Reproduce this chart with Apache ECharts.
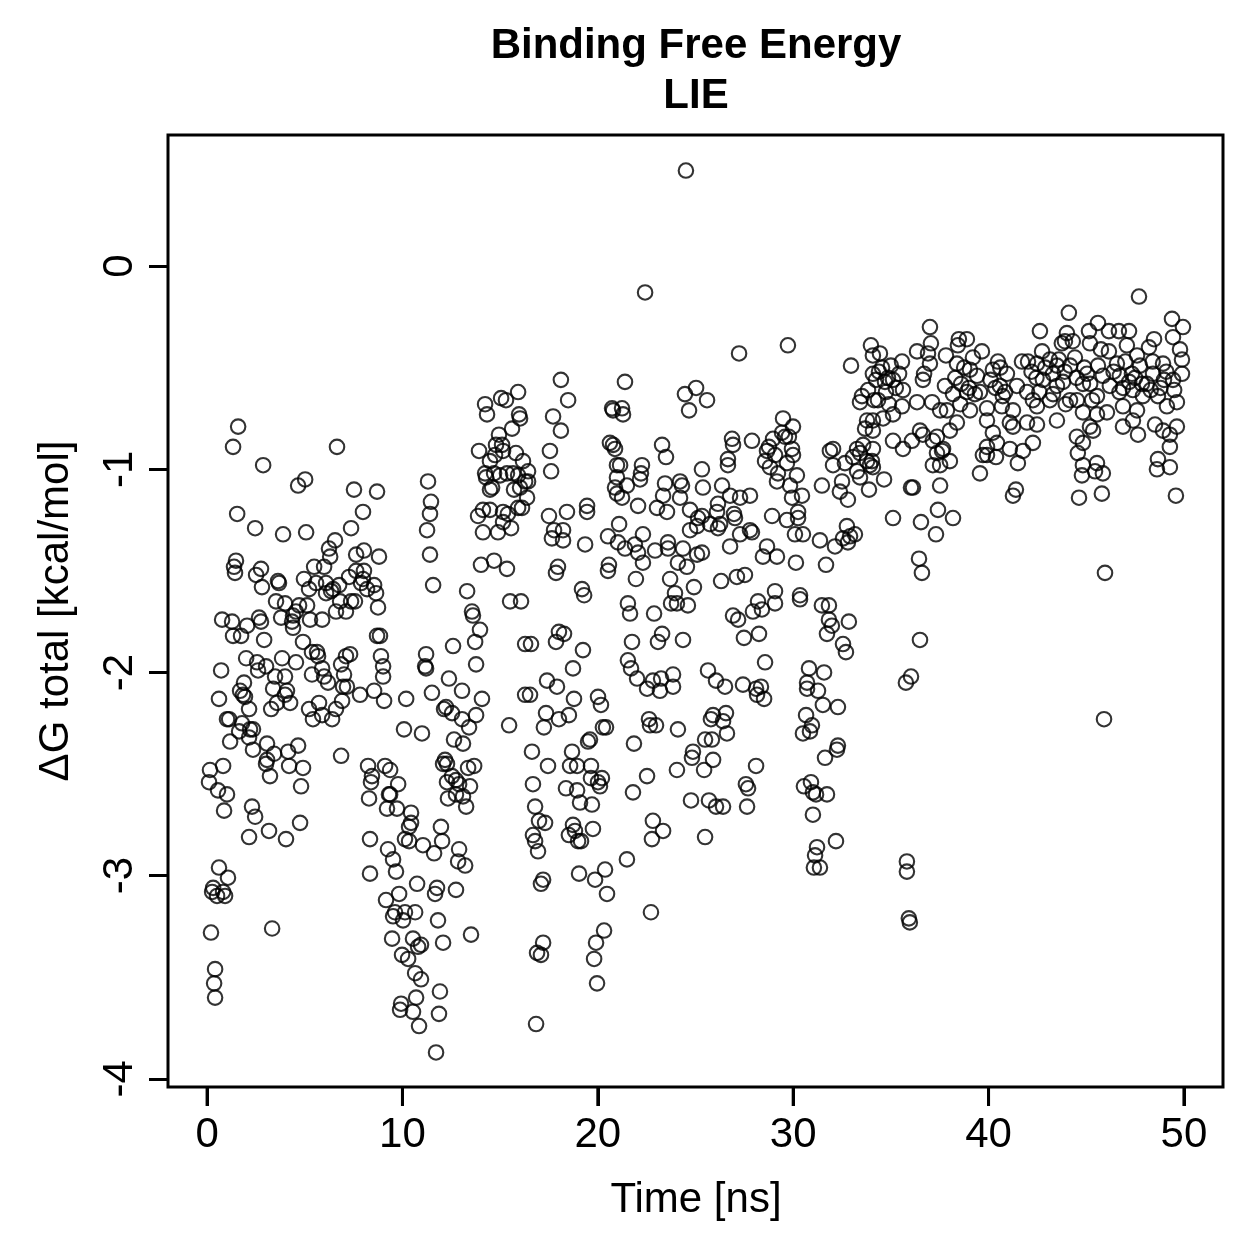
<!DOCTYPE html>
<html>
<head>
<meta charset="utf-8">
<script src="https://cdn.jsdelivr.net/npm/echarts@6/dist/echarts.min.js"></script>
<style>
html,body{margin:0;padding:0;background:#fff;}
#chart{width:1259px;height:1259px;}
</style>
</head>
<body>
<div id="chart"></div>
<script>
// [time (ns), dG total (kcal/mol)]
const block0to10 = [
[0.15,-2.48],[0.82,-2.46],[0.10,-2.54],[0.56,-2.58],[1.02,-2.60],[0.87,-2.68],[2.30,-2.66],[2.46,-2.71],[2.15,-2.81],[3.17,-2.78],[4.04,-2.82],[4.76,-2.74],[4.81,-2.56],[4.91,-2.47],[4.20,-2.46],[3.02,-2.45],[3.22,-2.51],[0.61,-2.96],[1.07,-3.01],[0.31,-3.06],[0.26,-3.08],[0.51,-3.10],[0.92,-3.10],[0.82,-3.08],[0.20,-3.28],[3.33,-3.26],[0.41,-3.46],[0.36,-3.53],[0.41,-3.60],[8.24,-2.46],[8.44,-2.51],[8.39,-2.54],[8.29,-2.62],[9.11,-2.46],[9.37,-2.48],[9.78,-2.55],[9.37,-2.60],[9.31,-2.60],[9.21,-2.67],[9.72,-2.67],[8.34,-2.82],[9.26,-2.87],[9.52,-2.92],[9.67,-2.98],[8.34,-2.99],[9.83,-3.09],[9.16,-3.12],[9.62,-3.18],[9.52,-3.20],[9.47,-3.31],[9.98,-3.39],[9.93,-3.63],[9.88,-3.66],
[1.33,-0.89],[6.65,-0.89],[1.59,-0.79],[2.87,-0.98],[4.66,-1.08],[5.02,-1.05],[7.52,-1.10],[8.70,-1.11],[1.54,-1.22],[2.46,-1.29],[3.89,-1.32],[5.07,-1.31],[7.98,-1.21],[7.37,-1.29],[6.55,-1.35],[6.24,-1.39],[6.30,-1.43],[7.63,-1.42],[8.03,-1.40],[8.80,-1.43],[1.48,-1.45],[1.38,-1.48],[1.43,-1.51],[2.76,-1.49],[2.51,-1.52],[2.81,-1.58],[3.63,-1.55],[3.68,-1.56],[5.48,-1.48],[5.99,-1.48],[4.96,-1.54],[5.22,-1.59],[5.58,-1.56],[6.09,-1.56],[6.76,-1.57],[7.27,-1.53],[7.63,-1.50],[8.03,-1.50],[7.98,-1.54],[7.88,-1.56],[8.19,-1.59],[8.55,-1.57],[8.65,-1.61],[6.35,-1.60],[6.09,-1.61],[6.45,-1.59],[3.53,-1.65],[3.99,-1.66],[4.71,-1.67],[5.12,-1.67],[4.55,-1.70],[4.40,-1.72],[3.79,-1.73],[4.35,-1.75],[4.40,-1.78],[5.27,-1.74],[5.89,-1.74],[6.60,-1.70],[7.11,-1.70],[6.81,-1.65],[7.37,-1.65],[7.57,-1.65],[8.75,-1.68],[0.77,-1.74],[1.28,-1.75],[2.05,-1.77],[2.66,-1.73],[2.76,-1.75],[1.33,-1.82],[1.74,-1.82],[2.92,-1.84],[4.91,-1.85],[8.70,-1.82],[8.85,-1.82],[5.37,-1.90],[5.63,-1.90],[5.68,-1.92],[7.11,-1.92],[7.32,-1.91],[2.00,-1.93],[2.56,-1.95],[3.02,-1.97],[2.61,-1.99],[3.84,-1.93],[4.55,-1.95],[0.72,-1.99],[3.48,-2.02],[3.99,-2.02],[5.37,-2.01],[5.89,-1.98],[5.99,-2.02],[6.19,-2.05],[6.86,-1.96],[7.01,-2.01],[8.90,-1.92],[9.01,-1.97],[9.01,-2.02],[1.89,-2.05],[1.69,-2.09],[1.84,-2.11],[1.94,-2.12],[3.38,-2.08],[4.09,-2.09],[3.99,-2.11],[4.25,-2.15],[3.58,-2.15],[3.28,-2.18],[0.61,-2.13],[2.15,-2.18],[6.96,-2.07],[7.16,-2.07],[6.91,-2.14],[7.83,-2.11],[8.55,-2.09],[9.06,-2.14],[5.73,-2.15],[5.22,-2.18],[5.89,-2.21],[6.40,-2.23],[5.42,-2.23],[6.60,-2.18],[1.02,-2.23],[1.13,-2.23],[1.79,-2.25],[1.64,-2.29],[2.20,-2.28],[2.35,-2.28],[2.15,-2.32],[1.18,-2.34],[2.35,-2.38],[3.07,-2.35],[4.66,-2.36],[4.15,-2.39],[3.43,-2.40],[3.07,-2.43],[6.86,-2.41]
];
const block10to20 = [
[10.44,-2.69],[10.44,-2.74],[10.34,-2.76],[10.13,-2.82],[10.34,-2.83],[11.05,-2.85],[11.62,-2.89],[11.97,-2.76],[12.03,-2.83],[10.75,-3.04],[11.77,-3.06],[11.67,-3.09],[12.74,-3.07],[12.90,-2.87],[12.85,-2.93],[13.21,-2.95],[10.13,-3.18],[10.65,-3.18],[10.03,-3.22],[11.82,-3.22],[10.54,-3.31],[10.80,-3.35],[10.95,-3.34],[12.08,-3.33],[13.51,-3.29],[10.29,-3.41],[10.65,-3.48],[10.95,-3.51],[11.92,-3.57],[10.70,-3.60],[10.54,-3.67],[11.87,-3.68],[10.85,-3.74],[11.72,-3.87],[12.08,-2.45],[12.54,-2.51],[12.28,-2.54],[12.74,-2.53],[12.90,-2.55],[13.46,-2.56],[13.10,-2.61],[12.74,-2.60],[12.33,-2.62],[13.26,-2.66],[13.36,-2.47],[13.67,-2.46],
[11.31,-1.06],[11.46,-1.16],[11.41,-1.22],[11.26,-1.30],[11.41,-1.42],[11.57,-1.57],[12.59,-1.87],[13.77,-1.96],[13.72,-1.85],[13.97,-1.79],[13.56,-1.70],[13.61,-1.72],[13.31,-1.60],[11.21,-1.91],[11.16,-1.97],[11.21,-1.98],[10.19,-2.13],[11.51,-2.10],[12.38,-2.03],[13.05,-2.09],[14.07,-2.13],[12.23,-2.17],[12.13,-2.18],[12.54,-2.20],[13.05,-2.23],[13.41,-2.27],[13.77,-2.21],[15.46,-2.26],[10.08,-2.28],[11.00,-2.30],[12.64,-2.33],[13.10,-2.35],[12.18,-2.43],[12.28,-2.45],[16.28,-2.11],[16.28,-1.86],[15.51,-1.65],[16.07,-1.65],[14.02,-1.47],[14.69,-1.45],[15.35,-1.49],[13.92,-0.91],[14.48,-0.96],[14.74,-0.93],[15.15,-0.91],[15.81,-0.92],[14.23,-1.02],[14.28,-1.04],[14.69,-1.02],[15.00,-1.03],[15.35,-1.02],[15.66,-1.02],[15.92,-1.03],[14.48,-1.10],[14.59,-1.09],[15.71,-1.10],[16.02,-1.09],[15.92,-1.19],[13.87,-1.23],[14.12,-1.20],[14.48,-1.20],[15.15,-1.21],[15.40,-1.22],[14.12,-1.31],[14.89,-1.31],[15.56,-1.29],[15.15,-1.26],
[15.92,-0.62],[15.05,-0.65],[15.30,-0.66],[14.23,-0.68],[14.33,-0.73],[15.97,-0.73],[16.02,-0.75],[15.61,-0.80],[14.94,-0.83],[14.79,-0.88],[15.10,-0.88],[18.11,-0.56],[18.48,-0.66],[17.71,-0.74],[18.11,-0.81],[17.55,-0.91],
[16.17,-0.96],[16.43,-1.01],[16.28,-1.06],[16.43,-1.06],[16.38,-1.14],[16.12,-1.19],[17.61,-1.01],[17.50,-1.23],[18.42,-1.21],[19.45,-1.18],[19.45,-1.21],[17.76,-1.30],[18.22,-1.30],[17.65,-1.34],[18.22,-1.35],[19.35,-1.37],[17.96,-1.48],[17.86,-1.51],[19.19,-1.59],[19.30,-1.62],[16.58,-1.86],[17.86,-1.85],[18.01,-1.80],[18.27,-1.81],[19.24,-1.89],[18.73,-1.98],[17.40,-2.04],[17.91,-2.07],[16.53,-2.11],[18.78,-2.13],[17.35,-2.20],[18.01,-2.23],[18.52,-2.21],[17.24,-2.27],[19.50,-2.34],[19.60,-2.33],[16.63,-2.39],[18.68,-2.39],
[17.45,-2.46],[18.58,-2.46],[18.94,-2.46],[19.65,-2.46],[16.68,-2.55],[18.37,-2.57],[18.94,-2.58],[19.65,-2.52],[19.09,-2.64],[19.70,-2.65],[16.79,-2.66],[16.99,-2.73],[17.30,-2.74],[16.68,-2.80],[16.79,-2.83],[16.94,-2.88],[18.73,-2.75],[18.52,-2.80],[18.83,-2.78],[18.99,-2.83],[19.14,-2.83],[19.75,-2.77],[17.20,-3.02],[17.09,-3.04],[19.04,-2.99],[19.86,-3.02],[17.20,-3.33],[16.89,-3.38],[17.09,-3.39],[19.91,-3.33],[19.81,-3.41],[19.96,-3.53],[16.84,-3.73]
];
const block20to30 = [
[24.51,0.47],[22.42,-0.13],[27.23,-0.43],[29.73,-0.39],[21.39,-0.57],[20.73,-0.70],[20.78,-0.71],[21.24,-0.70],[21.29,-0.73],[20.62,-0.87],[20.78,-0.88],[23.29,-0.88],[24.46,-0.63],[25.03,-0.60],[25.59,-0.66],[24.67,-0.71],[26.87,-0.85],[26.92,-0.88],[27.89,-0.86],[29.48,-0.75],[29.99,-0.79],[29.43,-0.82],[29.58,-0.84],[29.78,-0.84],[28.97,-0.85],[28.76,-0.89],[29.94,-0.90],
[20.88,-0.90],[20.98,-0.98],[21.14,-0.98],[20.98,-1.04],[20.88,-1.09],[20.98,-1.12],[21.24,-1.14],[21.49,-1.08],[22.26,-0.98],[22.21,-1.02],[22.16,-1.05],[22.06,-1.18],[23.49,-0.94],[23.44,-1.07],[23.34,-1.13],[24.21,-1.06],[24.31,-1.08],[24.21,-1.14],[23.54,-1.21],[23.03,-1.19],[24.72,-1.20],[25.33,-1.00],[25.38,-1.09],[26.36,-1.08],[26.66,-0.95],[26.66,-0.98],[26.77,-1.13],[27.28,-1.14],[27.79,-1.13],[26.15,-1.17],[26.10,-1.21],[25.33,-1.23],[25.13,-1.24],[25.08,-1.28],[24.72,-1.30],[25.74,-1.27],[26.26,-1.27],[26.15,-1.29],[26.97,-1.22],[27.02,-1.24],[27.28,-1.32],[27.79,-1.30],[27.89,-1.31],[26.77,-1.38],[28.66,-0.91],[29.07,-0.93],[28.56,-0.96],[28.81,-0.99],[29.22,-1.02],[29.68,-0.97],[29.99,-0.93],[29.17,-1.06],[29.84,-1.08],[29.94,-1.14],[28.92,-1.23],[29.68,-1.25],[28.66,-1.38],[28.45,-1.43],[29.17,-1.43],
[20.52,-1.33],[21.09,-1.27],[21.03,-1.36],[21.39,-1.39],[21.90,-1.37],[22.31,-1.32],[22.06,-1.41],[22.31,-1.46],[22.93,-1.40],[23.59,-1.36],[23.59,-1.39],[24.36,-1.39],[24.10,-1.46],[24.56,-1.48],[25.08,-1.42],[25.33,-1.41],[20.57,-1.47],[20.52,-1.50],[21.95,-1.54],[23.70,-1.54],[26.31,-1.55],[27.12,-1.53],[27.53,-1.52],[24.92,-1.58],[23.95,-1.61],[23.75,-1.66],[24.05,-1.66],[24.61,-1.67],[21.54,-1.66],[21.65,-1.71],[22.88,-1.71],[26.92,-1.72],[27.18,-1.74],[27.94,-1.70],[28.20,-1.65],[28.40,-1.69],[29.07,-1.60],[29.07,-1.66],
[20.01,-2.12],[20.16,-2.16],[20.26,-2.27],[20.42,-2.27],[21.75,-1.85],[21.54,-1.94],[21.70,-1.98],[22.01,-2.03],[22.52,-2.08],[22.82,-2.04],[23.24,-2.03],[23.18,-2.09],[23.29,-1.81],[23.08,-1.85],[24.36,-1.84],[23.85,-2.01],[23.85,-2.07],[22.62,-2.23],[22.67,-2.26],[22.98,-2.26],[24.10,-2.28],[21.85,-2.35],[25.64,-1.99],[26.05,-2.04],[26.51,-2.07],[27.43,-2.06],[28.10,-2.08],[28.35,-2.07],[28.15,-2.11],[28.51,-2.13],[28.56,-1.95],[27.48,-1.83],[28.25,-1.81],[25.90,-2.21],[26.56,-2.20],[25.79,-2.23],[26.41,-2.24],[26.61,-2.30],[25.49,-2.33],[25.84,-2.33],[24.87,-2.39],[24.82,-2.42],[25.90,-2.43],
[20.21,-2.52],[20.01,-2.54],[20.11,-2.56],[20.37,-2.97],[20.47,-3.09],[21.49,-2.92],[21.80,-2.59],[22.52,-2.51],[22.82,-2.73],[23.34,-2.78],[22.77,-2.82],[22.72,-3.18],[24.05,-2.48],[25.44,-2.48],[24.77,-2.63],[25.69,-2.63],[26.05,-2.66],[26.41,-2.66],[25.49,-2.81],[27.58,-2.55],[27.69,-2.57],[27.64,-2.66],[28.10,-2.46],[20.32,-3.27]
];
const block30to40 = [
[32.96,-0.49],[33.98,-0.39],[34.08,-0.44],[32.04,-0.90],[33.42,-0.67],[33.52,-0.64],[33.83,-0.61],[33.68,-0.80],[33.78,-0.76],[34.08,-0.53],[34.14,-0.66],[33.27,-0.90],[33.58,-0.88],[34.08,-0.90],
[37.00,-0.30],[38.48,-0.36],[38.89,-0.36],[38.43,-0.39],[37.05,-0.38],[39.66,-0.42],[36.34,-0.42],[36.90,-0.43],[37.82,-0.44],[34.44,-0.43],[37.00,-0.48],[38.38,-0.48],[35.57,-0.47],[35.42,-0.53],[34.39,-0.52],[34.24,-0.56],[34.70,-0.57],[35.11,-0.56],[36.64,-0.56],[36.70,-0.53],[39.05,-0.51],[39.41,-0.54],[37.77,-0.59],[38.18,-0.63],[38.89,-0.62],[39.56,-0.62],[35.62,-0.61],[34.34,-0.66],[36.34,-0.67],[37.11,-0.67],[37.52,-0.71],[37.87,-0.71],[39.05,-0.71],[39.92,-0.70],[34.60,-0.75],[35.11,-0.73],[35.57,-0.69],[34.08,-0.76],[36.49,-0.81],[36.64,-0.83],[37.36,-0.84],[38.02,-0.81],[38.38,-0.77],[39.92,-0.76],[34.08,-0.81],[35.11,-0.86],[35.62,-0.90],[36.08,-0.86],[37.15,-0.86],[37.67,-0.90],[39.92,-0.89],
[34.55,-0.50],[34.85,-0.55],[35.00,-0.49],[34.75,-0.62],[35.25,-0.60],[34.90,-0.68],[38.30,-0.55],[38.60,-0.58],[38.75,-0.50],[39.00,-0.60],[39.30,-0.63],[38.55,-0.68],[39.20,-0.45],
[30.19,-1.03],[30.45,-1.13],[30.25,-1.21],[30.25,-1.24],[30.09,-1.32],[30.50,-1.32],[30.14,-1.46],[31.68,-1.47],[31.47,-1.08],[32.50,-1.06],[32.39,-1.11],[32.80,-1.15],[31.88,-0.91],[32.04,-0.98],[32.65,-0.97],[33.06,-0.94],[33.27,-1.01],[33.42,-1.04],[33.78,-0.96],[33.93,-0.98],[33.88,-1.10],[33.42,-0.92],[31.37,-1.35],[32.14,-1.38],[32.75,-1.28],[32.91,-1.33],[32.80,-1.36],[33.16,-1.32],[32.55,-1.34],[30.35,-1.62],[30.35,-1.64],[31.47,-1.67],[31.83,-1.67],[31.83,-1.74],[31.98,-1.77],[32.85,-1.75],[31.73,-1.81],[32.55,-1.86],[32.70,-1.90],[30.81,-1.98],[31.58,-2.00],[30.71,-2.05],[30.71,-2.08],[31.27,-2.09],[31.52,-2.16],[32.29,-2.17],[30.66,-2.21],[30.96,-2.26],[30.86,-2.29],[30.50,-2.30],[32.29,-2.36],[32.24,-2.38],[31.63,-2.42],
[30.55,-2.56],[30.91,-2.54],[31.01,-2.59],[31.17,-2.60],[31.73,-2.60],[31.01,-2.70],[32.19,-2.83],[31.22,-2.86],[31.12,-2.90],[31.06,-2.96],[31.37,-2.96],
[37.36,-0.92],[37.62,-0.91],[37.15,-0.98],[37.52,-0.98],[38.02,-0.96],[34.03,-0.96],[34.08,-0.99],[34.65,-1.05],[36.03,-1.09],[36.13,-1.09],[37.52,-1.08],[37.41,-1.20],[38.18,-1.24],[35.11,-1.24],[36.54,-1.26],[37.31,-1.32],[36.44,-1.44],[36.59,-1.51],[36.49,-1.84],[36.03,-2.02],[35.77,-2.05],[39.56,-1.02],[39.71,-0.93],[39.92,-0.93],
[35.82,-2.93],[35.82,-2.98],[35.92,-3.21],[35.97,-3.23]
];
const block40to50 = [
[47.70,-0.15],[44.11,-0.23],[49.39,-0.26],[49.95,-0.30],[42.63,-0.32],[45.60,-0.28],[46.16,-0.32],[46.67,-0.32],[47.19,-0.32],[45.14,-0.32],[45.19,-0.38],[43.91,-0.37],[43.75,-0.38],[44.31,-0.37],[44.01,-0.33],[47.08,-0.39],[48.47,-0.36],[49.44,-0.35],[45.75,-0.41],[46.16,-0.42],[47.60,-0.44],[48.21,-0.40],[49.80,-0.41],[49.90,-0.46],[42.74,-0.42],[40.48,-0.47],[40.22,-0.51],[40.94,-0.53],[41.71,-0.47],[42.02,-0.47],[42.48,-0.48],[43.14,-0.46],[43.50,-0.49],[44.17,-0.49],[44.42,-0.45],[45.04,-0.53],[45.85,-0.54],[46.57,-0.48],[46.72,-0.54],[47.34,-0.53],[47.75,-0.49],[48.42,-0.53],[48.93,-0.48],[48.98,-0.56],[49.44,-0.56],[49.90,-0.53],[40.58,-0.59],[40.73,-0.64],[41.45,-0.59],[41.97,-0.62],[42.27,-0.66],[42.78,-0.56],[43.50,-0.59],[43.81,-0.57],[44.83,-0.58],[45.55,-0.64],[46.21,-0.59],[46.88,-0.60],[47.39,-0.61],[47.90,-0.64],[48.67,-0.64],[40.68,-0.69],[41.25,-0.71],[42.48,-0.69],[43.14,-0.66],[44.17,-0.66],[44.52,-0.66],[44.83,-0.72],[45.55,-0.73],[46.06,-0.72],[46.88,-0.69],[47.60,-0.71],[49.13,-0.69],[49.64,-0.67],[40.22,-0.82],[41.09,-0.77],[41.25,-0.79],[41.97,-0.77],[42.48,-0.78],[43.50,-0.76],[45.19,-0.79],[45.35,-0.81],[46.88,-0.79],[47.39,-0.76],[47.65,-0.83],[48.52,-0.78],[48.93,-0.81],[49.64,-0.79],[49.28,-0.83],[49.28,-0.89],[40.43,-0.87],[41.09,-0.90],[41.76,-0.91],[42.27,-0.87],[44.52,-0.84],[44.83,-0.87],
[40.38,-0.94],[41.50,-0.97],[41.40,-1.10],[41.25,-1.13],[44.57,-0.92],[44.83,-0.98],[44.78,-1.03],[45.55,-0.97],[45.45,-1.01],[45.85,-1.02],[44.63,-1.14],[45.80,-1.12],[45.96,-1.51],[45.91,-2.23],[48.67,-0.95],[48.62,-1.00],[49.28,-0.99],[49.59,-1.13],
[40.10,-0.56],[40.35,-0.60],[40.85,-0.62],[40.60,-0.50],[42.20,-0.52],[42.45,-0.55],[42.90,-0.50],[43.30,-0.53],[43.60,-0.46],[43.90,-0.52],[42.60,-0.62],[43.30,-0.63],[43.95,-0.68],[44.50,-0.55],[44.90,-0.50],[45.20,-0.58],[45.60,-0.49],[45.30,-0.66],[46.40,-0.52],[46.70,-0.62],[47.20,-0.57],[47.50,-0.55],[47.85,-0.58],[47.00,-0.47],[48.10,-0.58],[48.30,-0.61],[48.80,-0.60],[49.10,-0.52],[49.50,-0.61],[48.40,-0.47]
];
const xTicks = [0, 10, 20, 30, 40, 50];
const yTicks = [-4, -3, -2, -1, 0];
const titleLines = ['Binding Free Energy', 'LIE'];
const xName = 'Time [ns]';
const yName = 'ΔG total [kcal/mol]';

const FONT = '"Liberation Sans", Arial, Helvetica, sans-serif';
const Y_MIN = -4.04, Y_MAX = 0.645, X_MIN = -2, X_MAX = 52;
const TICK_LEN = 19;
const allPoints = [].concat(block0to10, block10to20, block20to30, block30to40, block40to50);

const chart = echarts.init(document.getElementById('chart'), null, {renderer: 'canvas'});
chart.setOption({
  animation: false,
  backgroundColor: '#ffffff',
  grid: {
    left: 168, right: 36, top: 135, bottom: 172,
    show: true, borderColor: '#000', borderWidth: 3, backgroundColor: 'transparent'
  },
  xAxis: {
    type: 'value', min: X_MIN, max: X_MAX,
    axisLine: {show: false, onZero: false},
    splitLine: {show: false},
    axisTick: {show: true, length: TICK_LEN, customValues: xTicks, lineStyle: {color: '#000', width: 3}},
    axisLabel: {customValues: xTicks, fontFamily: FONT, fontSize: 42, color: '#000', margin: 27}
  },
  yAxis: {
    type: 'value', min: Y_MIN, max: Y_MAX,
    axisLine: {show: false, onZero: false},
    splitLine: {show: false},
    axisTick: {show: true, length: TICK_LEN, customValues: yTicks, lineStyle: {color: '#000', width: 3}},
    axisLabel: {customValues: yTicks, rotate: 90, fontFamily: FONT, fontSize: 42, color: '#000', margin: 27}
  },
  series: [{
    type: 'scatter',
    data: allPoints,
    symbol: 'circle',
    symbolSize: 14.5,
    itemStyle: {color: 'rgba(0,0,0,0)', borderColor: '#000', borderWidth: 2.1},
    emphasis: {disabled: true},
    silent: true
  }]
});

// Title and axis titles as text elements
const textEls = [
  {type: 'text', x: 696, y: 46, silent: true,
   style: {text: titleLines[0], fontFamily: FONT, fontSize: 42, fontWeight: 'bold', fill: '#000', align: 'center', verticalAlign: 'middle', textAlign: 'center', textVerticalAlign: 'middle'}},
  {type: 'text', x: 696, y: 96, silent: true,
   style: {text: titleLines[1], fontFamily: FONT, fontSize: 42, fontWeight: 'bold', fill: '#000', align: 'center', verticalAlign: 'middle', textAlign: 'center', textVerticalAlign: 'middle'}},
  {type: 'text', x: 696, y: 1200, silent: true,
   style: {text: xName, fontFamily: FONT, fontSize: 42, fill: '#000', align: 'center', verticalAlign: 'middle', textAlign: 'center', textVerticalAlign: 'middle'}},
  {type: 'text', x: 56, y: 611, rotation: Math.PI / 2, silent: true,
   style: {text: yName, fontFamily: FONT, fontSize: 42, fill: '#000', align: 'center', verticalAlign: 'middle', textAlign: 'center', textVerticalAlign: 'middle'}}
];

// Outward x-axis ticks placed through the chart's own x scale (backup for axisTick)
let tickEls = [];
try {
  tickEls = xTicks.map(function (v) {
    const p = chart.convertToPixel({gridIndex: 0}, [v, Y_MIN]);
    return {
      type: 'line', silent: true, z: 100,
      shape: {x1: p[0], y1: p[1], x2: p[0], y2: p[1] + TICK_LEN},
      style: {stroke: '#000', lineWidth: 3}
    };
  });
} catch (e) { tickEls = []; }

chart.setOption({graphic: {elements: textEls.concat(tickEls)}});
</script>
</body>
</html>
